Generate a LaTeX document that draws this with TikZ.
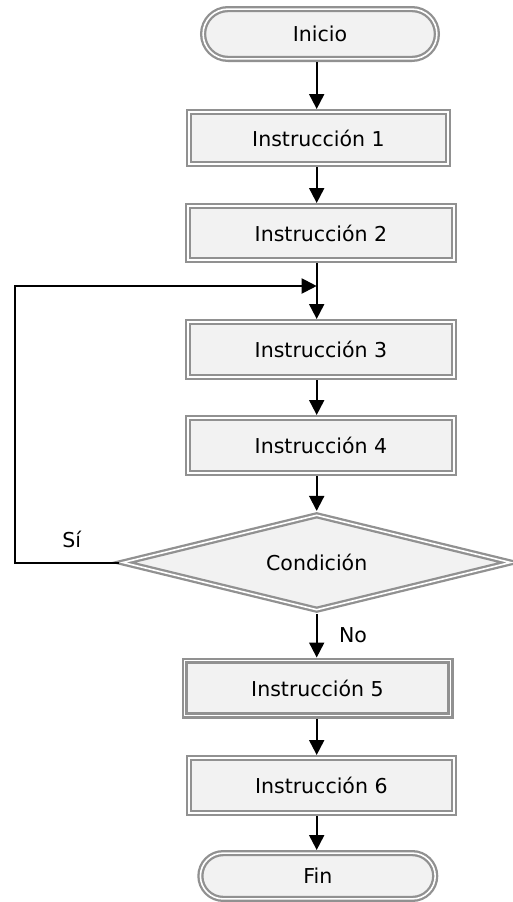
\documentclass[tikz,border=0pt]{standalone}
\usepackage{fontspec}
\setmainfont{DejaVu Sans}
\usetikzlibrary{shapes.misc,shapes.geometric,arrows.meta}
\definecolor{bord}{RGB}{145,145,145}
\definecolor{boxfill}{RGB}{242,242,242}
\begin{document}
\begin{tikzpicture}[x=1pt,y=-1pt,
  base/.style={draw=bord, fill=boxfill, line width=2.3pt, double=white,
    double distance=1.6pt, font=\fontsize{20.5}{24}\selectfont,
    inner sep=0pt, outer sep=3.1pt},
  instbox/.style={base, rectangle},
  term/.style={base, rounded rectangle},
  decision/.style={base, diamond, aspect=4},
  lbl/.style={font=\fontsize{20.5}{24}\selectfont, inner sep=0pt},
  arr/.style={line width=2pt, -{Triangle[length=15pt,width=15pt]}}]
\useasboundingbox (0,0) rectangle (513,902);
\coordinate (sp) at (316.7,0);
\node[term, minimum width=233.8pt, minimum height=49.8pt] (ini) at (320,34) {Inicio};
\node[instbox, minimum width=258.8pt, minimum height=51.8pt] (b1) at (318.5,138) {Instrucción 1};
\node[instbox, minimum width=265.8pt, minimum height=53.8pt] (b2) at (321,233) {Instrucción 2};
\node[instbox, minimum width=265.8pt, minimum height=54.8pt] (b3) at (321,349.5) {Instrucción 3};
\node[instbox, minimum width=265.8pt, minimum height=54.8pt] (b4) at (321,445.5) {Instrucción 4};
\node[decision, minimum width=390pt, minimum height=97pt] (dia) at (316.7,562.5) {Condición};
\node[instbox, minimum width=265.8pt, minimum height=54.8pt] (b5) at (317.5,688) {Instrucción 5};
\node[instbox, minimum width=264.8pt, minimum height=54.8pt] (b6) at (321.3,785.5) {Instrucción 6};
\node[term, minimum width=234.8pt, minimum height=45.8pt] (fin) at (317.8,876) {Fin};
\node[lbl] (si) at (71.7,539) {Sí};
\node[lbl] (no) at (353,635) {No};
\coordinate (join) at (316.7,286);
\coordinate (lp) at (15,0);
\draw[arr] (ini.south -| sp) -- (b1.north -| sp);
\draw[arr] (b1.south -| sp) -- (b2.north -| sp);
\draw[arr] (b2.south -| sp) -- (b3.north -| sp);
\draw[arr] (b3.south -| sp) -- (b4.north -| sp);
\draw[arr] (b4.south -| sp) -- (dia.north);
\draw[arr] (dia.south) -- (b5.north -| sp);
\draw[arr] (b5.south -| sp) -- (b6.north -| sp);
\draw[arr] (b6.south -| sp) -- (fin.north -| sp);
\draw[arr] (dia.west) -- (dia.west -| lp) |- (join);
\end{tikzpicture}
\end{document}
